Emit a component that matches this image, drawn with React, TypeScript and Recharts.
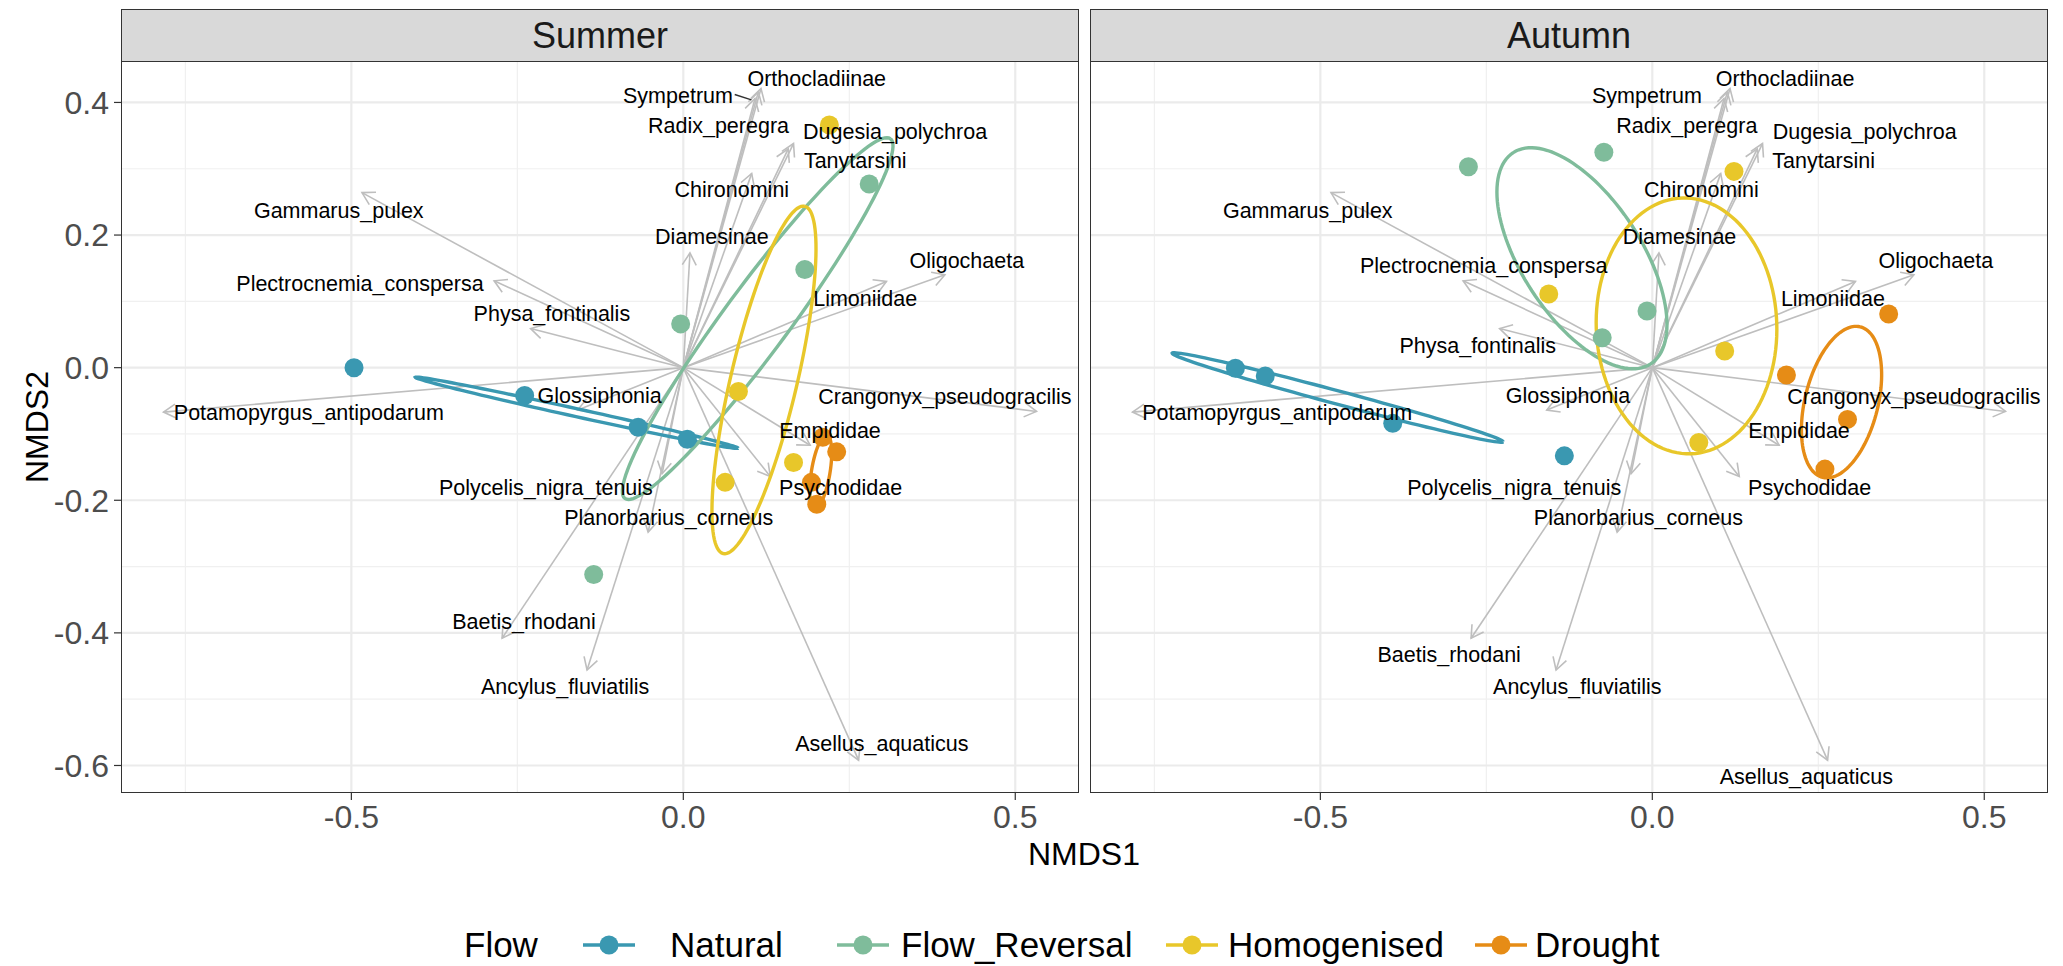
import { ScatterChart, Scatter, XAxis, YAxis, ReferenceLine } from "recharts";

const FONT = '"Liberation Sans", Arial, Helvetica, sans-serif';

const GROUPS = ["Natural", "Flow_Reversal", "Homogenised", "Drought"];
const GROUP_COLORS = ["#3A98B1", "#7FBC9B", "#E8C72A", "#E68C16"];
const ARROW_COLOR = "#BEBEBE";

const X_DOMAIN = [-0.847, 0.596];
const Y_DOMAIN = [-0.6415, 0.461];
const X_TICKS = [-0.5, 0, 0.5];
const Y_TICKS = [-0.6, -0.4, -0.2, 0, 0.2, 0.4];
const X_MINOR = [-0.75, -0.25, 0.25];
const Y_MINOR = [-0.5, -0.3, -0.1, 0.1, 0.3];

// fitted species vectors (same for both seasons)
const species = [
  "Orthocladiinae", "Sympetrum", "Radix_peregra", "Dugesia_polychroa", "Tanytarsini",
  "Chironomini", "Diamesinae", "Oligochaeta", "Limoniidae", "Crangonyx_pseudogracilis",
  "Empididae", "Psychodidae", "Planorbarius_corneus", "Polycelis_nigra_tenuis", "Glossiphonia",
  "Potamopyrgus_antipodarum", "Baetis_rhodani", "Ancylus_fluviatilis", "Asellus_aquaticus",
  "Gammarus_pulex", "Plectrocnemia_conspersa", "Physa_fontinalis",
];
const speciesNMDS1 = [
  0.117, 0.113, 0.108, 0.166, 0.158, 0.103, 0.010, 0.394, 0.306, 0.532,
  0.191, 0.131, -0.053, -0.032, -0.159, -0.783, -0.273, -0.145, 0.264,
  -0.484, -0.285, -0.230,
];
const speciesNMDS2 = [
  0.421, 0.416, 0.406, 0.338, 0.330, 0.293, 0.173, 0.140, 0.130, -0.066,
  -0.117, -0.164, -0.248, -0.160, -0.064, -0.067, -0.408, -0.456, -0.592,
  0.264, 0.131, 0.059,
];

// label positions (repelled), one pair per species
const summerLabels = [
  [0.201, 0.435], [-0.008, 0.409], [0.053, 0.365], [0.319, 0.356], [0.259, 0.311],
  [0.073, 0.268], [0.043, 0.197], [0.427, 0.161], [0.274, 0.104], [0.394, -0.044],
  [0.221, -0.095], [0.237, -0.182], [-0.022, -0.226], [-0.207, -0.182], [-0.126, -0.042],
  [-0.564, -0.069], [-0.240, -0.384], [-0.178, -0.481], [0.299, -0.568],
  [-0.519, 0.237], [-0.487, 0.126], [-0.198, 0.081],
];
const autumnLabels = [
  [0.200, 0.435], [-0.008, 0.409], [0.052, 0.365], [0.320, 0.356], [0.258, 0.312],
  [0.074, 0.268], [0.041, 0.197], [0.427, 0.161], [0.272, 0.104], [0.394, -0.044],
  [0.221, -0.095], [0.237, -0.182], [-0.021, -0.226], [-0.208, -0.182], [-0.127, -0.042],
  [-0.565, -0.069], [-0.306, -0.434], [-0.113, -0.481], [0.232, -0.618],
  [-0.519, 0.237], [-0.254, 0.154], [-0.263, 0.032],
];
// segment joining the Sympetrum label to its arrow in summer
const summerLinks = [[0.0774, 0.412], [0.1026, 0.404]];

// site scores
const summerNatural = [[-0.496, 0.0], [-0.239, -0.042], [-0.068, -0.09], [0.006, -0.108]];
const summerFlowReversal = [[-0.004, 0.066], [0.183, 0.148], [0.28, 0.277], [-0.135, -0.312]];
const summerHomogenised = [[0.22, 0.366], [0.083, -0.036], [0.166, -0.143], [0.063, -0.173]];
const summerDrought = [[0.21, -0.105], [0.231, -0.127], [0.193, -0.173], [0.201, -0.206]];

const autumnNatural = [[-0.628, -0.001], [-0.583, -0.0125], [-0.391, -0.084], [-0.1325, -0.133]];
const autumnFlowReversal = [[-0.277, 0.303], [-0.073, 0.325], [-0.008, 0.0855], [-0.0755, 0.045]];
const autumnHomogenised = [[-0.156, 0.111], [0.123, 0.296], [0.109, 0.025], [0.07, -0.113]];
const autumnDrought = [[0.356, 0.081], [0.202, -0.011], [0.294, -0.078], [0.26, -0.153]];

// 95% ellipses: centre x, centre y, semi-major, semi-minor, rotation (deg)
const summerEllipses = [
  [-0.1605, -0.068, 0.249, 0.006, -12.4],
  [0.112, 0.074, 0.337, 0.049, 53.6],
  [0.1215, -0.0185, 0.269, 0.05, 76.8],
  [0.207, -0.157, 0.056, 0.014, 80.7],
];
const autumnEllipses = [
  [-0.474, -0.045, 0.258, 0.01, -15],
  [-0.106, 0.165, 0.19, 0.09, 123],
  [0.0515, 0.063, 0.193, 0.136, 92],
  [0.285, -0.052, 0.117, 0.055, 76],
];

type Pt = { x: number; y: number; tip?: boolean; name?: string };

const toPts = (arr: number[][]): Pt[] => arr.map(([x, y]) => ({ x, y }));

const ellipsePath = ([cx, cy, a, b, deg]: number[]): Pt[] => {
  const th = (deg * Math.PI) / 180;
  const out: Pt[] = [];
  for (let i = 0; i <= 120; i++) {
    const t = (i / 120) * Math.PI * 2;
    out.push({
      x: cx + a * Math.cos(t) * Math.cos(th) - b * Math.sin(t) * Math.sin(th),
      y: cy + a * Math.cos(t) * Math.sin(th) + b * Math.sin(t) * Math.cos(th),
    });
  }
  return out;
};

const Empty = () => <g />;

const ArrowHead = (props: any) => {
  const { cx, cy, payload } = props;
  if (!payload || !payload.tip || cx == null) return <g />;
  const ang = Math.atan2(-payload.y, payload.x);
  const L = 14;
  const s = Math.PI / 6;
  const a1 = [cx - L * Math.cos(ang - s), cy - L * Math.sin(ang - s)];
  const a2 = [cx - L * Math.cos(ang + s), cy - L * Math.sin(ang + s)];
  return (
    <polyline
      points={`${a1[0]},${a1[1]} ${cx},${cy} ${a2[0]},${a2[1]}`}
      fill="none"
      stroke={ARROW_COLOR}
      strokeWidth={1.6}
    />
  );
};

const SpeciesLabel = (props: any) => {
  const { cx, cy, payload } = props;
  if (cx == null) return <g />;
  return (
    <text
      x={cx}
      y={cy}
      textAnchor="middle"
      dominantBaseline="central"
      fontSize={21.5}
      fontFamily={FONT}
      fill="#000"
    >
      {payload.name}
    </text>
  );
};

const dot = (color: string) => (props: any) => {
  const { cx, cy } = props;
  if (cx == null) return <g />;
  return <circle cx={cx} cy={cy} r={9.5} fill={color} />;
};

const PLOT_H = 731;
const AXIS_H = 60;

interface PanelProps {
  groups: number[][][];
  ellipses: number[][];
  labels: number[][];
  links?: number[][];
  showY: boolean;
}

const Panel = ({ groups, ellipses, labels, links, showY }: PanelProps) => {
  const yW = showY ? 121 : 0;
  const width = yW + 958;
  const tickStyle = { fontSize: 32, fill: "#4D4D4D", fontFamily: FONT };
  const labelData: Pt[] = species.map((name, i) => ({
    x: labels[i][0],
    y: labels[i][1],
    name,
  }));

  return (
    <ScatterChart
      width={width}
      height={PLOT_H + AXIS_H}
      margin={{ top: 0, right: 0, bottom: 0, left: 0 }}
    >
      <XAxis
        type="number"
        dataKey="x"
        domain={X_DOMAIN}
        allowDataOverflow
        ticks={X_TICKS}
        tickFormatter={(v: number) => v.toFixed(1)}
        tick={tickStyle}
        tickSize={7}
        tickMargin={5}
        tickLine={{ stroke: "#333333", strokeWidth: 1.2 }}
        axisLine={false}
        height={AXIS_H}
      />
      <YAxis
        type="number"
        dataKey="y"
        domain={Y_DOMAIN}
        allowDataOverflow
        ticks={Y_TICKS}
        tickFormatter={(v: number) => v.toFixed(1)}
        tick={tickStyle}
        tickSize={7}
        tickMargin={5}
        tickLine={{ stroke: "#333333", strokeWidth: 1.2 }}
        axisLine={false}
        width={yW}
        hide={!showY}
      />
      {X_MINOR.map((v) => (
        <ReferenceLine key={`xm${v}`} x={v} stroke="#F0F0F0" strokeWidth={1.2} />
      ))}
      {Y_MINOR.map((v) => (
        <ReferenceLine key={`ym${v}`} y={v} stroke="#F0F0F0" strokeWidth={1.2} />
      ))}
      {X_TICKS.map((v) => (
        <ReferenceLine key={`x${v}`} x={v} stroke="#EBEBEB" strokeWidth={2.2} />
      ))}
      {Y_TICKS.map((v) => (
        <ReferenceLine key={`y${v}`} y={v} stroke="#EBEBEB" strokeWidth={2.2} />
      ))}

      {species.map((name, i) => (
        <Scatter
          key={`arrow-${name}`}
          data={[
            { x: 0, y: 0 },
            { x: speciesNMDS1[i], y: speciesNMDS2[i], tip: true },
          ]}
          line={{ stroke: ARROW_COLOR, strokeWidth: 1.6 }}
          lineType="joint"
          shape={ArrowHead}
          isAnimationActive={false}
        />
      ))}

      {ellipses.map((e, g) => (
        <Scatter
          key={`ell-${GROUPS[g]}`}
          data={ellipsePath(e)}
          line={{ stroke: GROUP_COLORS[g], strokeWidth: 3.4 }}
          lineType="joint"
          shape={Empty}
          isAnimationActive={false}
        />
      ))}

      {groups.map((pts, g) => (
        <Scatter
          key={`pts-${GROUPS[g]}`}
          data={toPts(pts)}
          shape={dot(GROUP_COLORS[g])}
          isAnimationActive={false}
        />
      ))}

      {links && (
        <Scatter
          data={toPts(links)}
          line={{ stroke: "#333333", strokeWidth: 1.4 }}
          lineType="joint"
          shape={Empty}
          isAnimationActive={false}
        />
      )}

      <Scatter data={labelData} shape={SpeciesLabel} isAnimationActive={false} />
    </ScatterChart>
  );
};

const Strip = ({ left, title }: { left: number; title: string }) => (
  <div
    style={{
      position: "absolute",
      left,
      top: 9,
      width: 958,
      height: 53,
      boxSizing: "border-box",
      background: "#D9D9D9",
      border: "1.5px solid #333333",
      display: "flex",
      alignItems: "center",
      justifyContent: "center",
      fontSize: 36,
      color: "#1A1A1A",
      fontFamily: FONT,
    }}
  >
    {title}
  </div>
);

const Frame = ({ left }: { left: number }) => (
  <div
    style={{
      position: "absolute",
      left,
      top: 61,
      width: 958,
      height: 732,
      boxSizing: "border-box",
      border: "1.5px solid #333333",
      pointerEvents: "none",
    }}
  />
);

const LegendKey = ({ color }: { color: string }) => (
  <svg width={56} height={30} style={{ display: "block" }}>
    <line x1={2} y1={15} x2={54} y2={15} stroke={color} strokeWidth={3.4} />
    <circle cx={28} cy={15} r={9.5} fill={color} />
  </svg>
);

const legendKeyCenters = [609, 863, 1192, 1501];
const legendLabelLefts = [670, 901, 1228, 1535];

export default function App() {
  return (
    <div
      style={{
        position: "absolute",
        left: 0,
        top: 0,
        width: 2063,
        height: 966,
        background: "#FFFFFF",
        fontFamily: FONT,
        overflow: "hidden",
      }}
    >
      <div style={{ position: "absolute", left: 0, top: 62 }}>
        <Panel
          groups={[summerNatural, summerFlowReversal, summerHomogenised, summerDrought]}
          ellipses={summerEllipses}
          labels={summerLabels}
          links={summerLinks}
          showY
        />
      </div>
      <div style={{ position: "absolute", left: 1090, top: 62 }}>
        <Panel
          groups={[autumnNatural, autumnFlowReversal, autumnHomogenised, autumnDrought]}
          ellipses={autumnEllipses}
          labels={autumnLabels}
          showY={false}
        />
      </div>

      <Frame left={121} />
      <Frame left={1090} />
      <Strip left={121} title="Summer" />
      <Strip left={1090} title="Autumn" />

      <div
        style={{
          position: "absolute",
          left: 884,
          top: 834,
          width: 400,
          textAlign: "center",
          fontSize: 32,
          lineHeight: "40px",
          color: "#000",
        }}
      >
        NMDS1
      </div>
      <div
        style={{
          position: "absolute",
          left: 37,
          top: 427,
          transform: "translate(-50%, -50%) rotate(-90deg)",
          fontSize: 32,
          lineHeight: "40px",
          color: "#000",
          whiteSpace: "nowrap",
        }}
      >
        NMDS2
      </div>

      <div
        style={{
          position: "absolute",
          left: 464,
          top: 924,
          fontSize: 35,
          lineHeight: "42px",
          color: "#000",
        }}
      >
        Flow
      </div>
      {GROUPS.map((g, i) => (
        <div key={g}>
          <div style={{ position: "absolute", left: legendKeyCenters[i] - 28, top: 930 }}>
            <LegendKey color={GROUP_COLORS[i]} />
          </div>
          <div
            style={{
              position: "absolute",
              left: legendLabelLefts[i],
              top: 924,
              fontSize: 35,
              lineHeight: "42px",
              color: "#000",
              whiteSpace: "nowrap",
            }}
          >
            {g}
          </div>
        </div>
      ))}
    </div>
  );
}
